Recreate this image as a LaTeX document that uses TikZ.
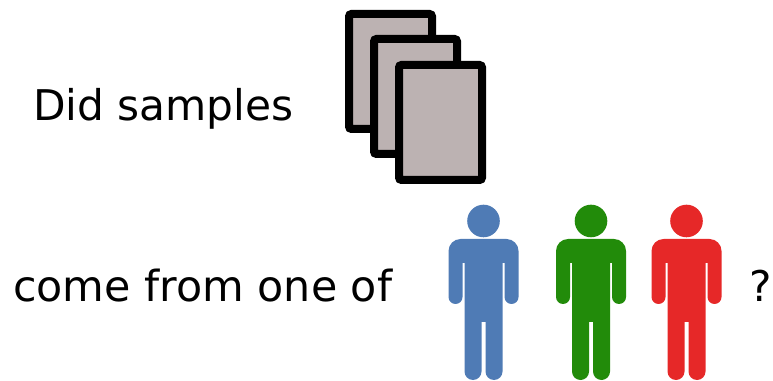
\documentclass[tikz,border=0pt]{standalone}
\usepackage{fontspec}
\setmainfont{DejaVu Sans}
\tikzset{
  x=1pt,y=1pt,
  label text/.style={inner sep=0pt,anchor=base west,font=\fontsize{42.3}{48}\selectfont},
  sheet/.style={draw=black,fill=sheetgrey,line width=8pt,rounded corners=2.5pt,minimum width=83pt,minimum height=115pt,inner sep=0pt,outer sep=0pt,anchor=north west},
  person/.pic={
    \fill[pic actions] (0,159) circle[radius=16.3];
    \fill[pic actions] (-35,129) arc[start angle=180,end angle=90,radius=12] -- (23,141)
      arc[start angle=90,end angle=0,radius=12] -- (35,83)
      arc[start angle=0,end angle=-180,radius=7] -- (21,117) -- (19,117) -- (19,8.5)
      arc[start angle=0,end angle=-180,radius=8.5] -- (2,58) -- (-2,58) -- (-2,8.5)
      arc[start angle=0,end angle=-180,radius=8.5] -- (-19,117) -- (-21,117) -- (-21,83)
      arc[start angle=0,end angle=-180,radius=7] -- cycle;
  }
}
\definecolor{sheetgrey}{HTML}{BCB2B2}
\definecolor{personblue}{HTML}{4F7BB5}
\definecolor{persongreen}{HTML}{228B0A}
\definecolor{personred}{HTML}{E62828}
\begin{document}
\begin{tikzpicture}
\useasboundingbox (0,0) rectangle (773,380);
\node[label text] (did) at (33,259) {Did samples};
\node[label text,font=\fontsize{42.8}{48}\selectfont] (come) at (13,78) {come from one of};
\node[label text] (q) at (749,78) {?};
\node[sheet] (s1) at (349,366) {};
\node[sheet] (s2) at (374,341) {};
\node[sheet] (s3) at (399,315) {};
\pic[fill=personblue] (blue) at (483.5,0) {person};
\pic[fill=persongreen] (green) at (591,0) {person};
\pic[fill=personred] (red) at (686.5,0) {person};
\end{tikzpicture}
\end{document}
